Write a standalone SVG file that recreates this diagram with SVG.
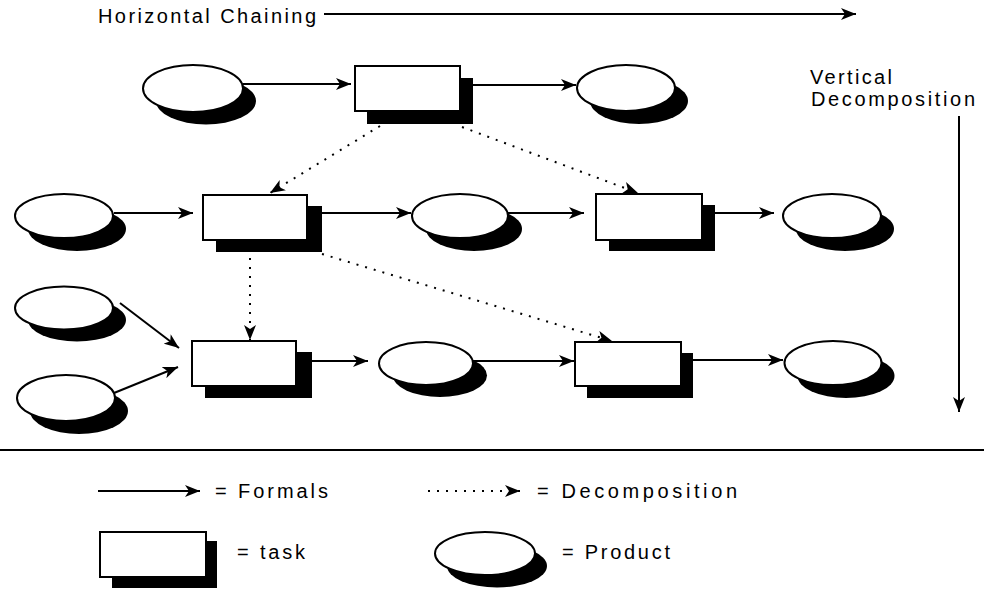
<svg xmlns="http://www.w3.org/2000/svg" width="984" height="589" viewBox="0 0 984 589">
<style>
  .lbl { font-family: "Liberation Sans", Arial, sans-serif; font-size: 20px; fill: #000; }
  .shadow { fill: #000; stroke: none; }
  .body { fill: #fff; stroke: #000; stroke-width: 2; }
  .formal { stroke: #000; stroke-width: 2; fill: none; }
  .decomp { stroke: #000; stroke-width: 2; fill: none; stroke-dasharray: 2 7; }
</style>
<defs>
  <marker id="ah" markerUnits="userSpaceOnUse" markerWidth="16" markerHeight="12" viewBox="0 0 16 12" refX="15" refY="6" orient="auto">
    <path d="M0,0 L15,6 L0,12 L4,6 z" fill="#000"/>
  </marker>
</defs>

<rect x="0" y="0" width="984" height="589" fill="#fff"/>

<g id="header">
  <text class="lbl" x="98" y="23" textLength="218" lengthAdjust="spacing">Horizontal Chaining</text>
  <text class="lbl" x="810" y="84" textLength="82" lengthAdjust="spacing">Vertical</text>
  <text class="lbl" x="811" y="106" textLength="164" lengthAdjust="spacing">Decomposition</text>
</g>

<!-- Row 1 -->
<g id="p1"><ellipse class="shadow" cx="206" cy="101" rx="50" ry="23.5"/><ellipse class="body" cx="193" cy="88.5" rx="50" ry="23.5"/></g>
<g id="t1"><rect class="shadow" x="367" y="78" width="106" height="46"/><rect class="body" x="355" y="66" width="105" height="45"/></g>
<g id="p2"><ellipse class="shadow" cx="639" cy="101" rx="49" ry="23"/><ellipse class="body" cx="626" cy="88" rx="49" ry="23"/></g>

<!-- Row 2 -->
<g id="p3"><ellipse class="shadow" cx="77" cy="229" rx="49" ry="22"/><ellipse class="body" cx="64" cy="216" rx="49" ry="22"/></g>
<g id="t2"><rect class="shadow" x="216" y="206" width="106" height="46"/><rect class="body" x="203" y="195" width="104" height="45"/></g>
<g id="p4"><ellipse class="shadow" cx="474" cy="229" rx="48" ry="22"/><ellipse class="body" cx="460" cy="216" rx="48" ry="22"/></g>
<g id="t3"><rect class="shadow" x="609" y="205" width="106" height="46"/><rect class="body" x="596" y="194" width="106" height="46"/></g>
<g id="p5"><ellipse class="shadow" cx="845" cy="229" rx="49" ry="22"/><ellipse class="body" cx="832" cy="216" rx="49" ry="22"/></g>

<!-- Row 3 -->
<g id="p6"><ellipse class="shadow" cx="77" cy="320" rx="49" ry="21.5"/><ellipse class="body" cx="64" cy="308" rx="49" ry="21.5"/></g>
<g id="p7"><ellipse class="shadow" cx="79" cy="411" rx="49" ry="23"/><ellipse class="body" cx="66" cy="398" rx="49" ry="23"/></g>
<g id="t4"><rect class="shadow" x="205" y="352" width="107" height="46"/><rect class="body" x="192" y="341" width="104" height="45"/></g>
<g id="p8"><ellipse class="shadow" cx="440" cy="375.5" rx="47" ry="21.5"/><ellipse class="body" cx="426" cy="363.5" rx="47" ry="21.5"/></g>
<g id="t5"><rect class="shadow" x="587" y="353" width="106" height="45"/><rect class="body" x="575" y="342" width="106" height="44"/></g>
<g id="p9"><ellipse class="shadow" cx="846" cy="376" rx="48.5" ry="22"/><ellipse class="body" cx="833" cy="363" rx="48.5" ry="22"/></g>

<g id="connectors">
  <!-- header arrows -->
  <line class="formal" x1="324" y1="14" x2="856" y2="14" marker-end="url(#ah)"/>
  <line class="formal" x1="959" y1="116" x2="959" y2="412" marker-end="url(#ah)"/>
  <!-- formals -->
  <line class="formal" x1="243" y1="84" x2="351" y2="84" marker-end="url(#ah)"/>
  <line class="formal" x1="473" y1="85" x2="576" y2="85" marker-end="url(#ah)"/>
  <line class="formal" x1="114" y1="213" x2="193" y2="213" marker-end="url(#ah)"/>
  <line class="formal" x1="322" y1="213" x2="411" y2="213" marker-end="url(#ah)"/>
  <line class="formal" x1="508" y1="213" x2="584" y2="213" marker-end="url(#ah)"/>
  <line class="formal" x1="715" y1="213" x2="774" y2="213" marker-end="url(#ah)"/>
  <line class="formal" x1="120" y1="303" x2="179" y2="348" marker-end="url(#ah)"/>
  <line class="formal" x1="114" y1="393" x2="178" y2="367" marker-end="url(#ah)"/>
  <line class="formal" x1="312" y1="361" x2="368" y2="361" marker-end="url(#ah)"/>
  <line class="formal" x1="473" y1="361" x2="574" y2="361" marker-end="url(#ah)"/>
  <line class="formal" x1="693" y1="360" x2="783" y2="360" marker-end="url(#ah)"/>
  <!-- decomposition -->
  <line class="decomp" x1="380" y1="126" x2="270" y2="193" marker-end="url(#ah)"/>
  <line class="decomp" x1="462" y1="127" x2="638" y2="193" marker-end="url(#ah)"/>
  <line class="decomp" x1="250" y1="258" x2="250" y2="340" marker-end="url(#ah)" stroke-dasharray="2 5"/>
  <line class="decomp" x1="322" y1="254" x2="612" y2="341" marker-end="url(#ah)"/>
</g>

<line x1="0" y1="450" x2="984" y2="450" stroke="#000" stroke-width="2"/>

<g id="legend">
  <line class="formal" x1="98" y1="491" x2="200" y2="491" marker-end="url(#ah)" stroke-width="1.5"/>
  <text class="lbl" x="215" y="498" textLength="113" lengthAdjust="spacing">= Formals</text>
  <line class="decomp" x1="428" y1="491" x2="520" y2="491" marker-end="url(#ah)" stroke-width="1.5" stroke-dasharray="1.5 7"/>
  <text class="lbl" x="537" y="498" textLength="200" lengthAdjust="spacing">= Decomposition</text>
  <g id="legend-task"><rect class="shadow" x="112" y="541" width="105" height="47"/><rect class="body" x="100" y="532" width="106" height="45"/></g>
  <text class="lbl" x="237" y="559" textLength="68" lengthAdjust="spacing">= task</text>
  <g id="legend-product"><ellipse class="shadow" cx="497" cy="566" rx="50" ry="21.5"/><ellipse class="body" cx="485" cy="553.5" rx="50" ry="21.5"/></g>
  <text class="lbl" x="562" y="559" textLength="108" lengthAdjust="spacing">= Product</text>
</g>
</svg>
